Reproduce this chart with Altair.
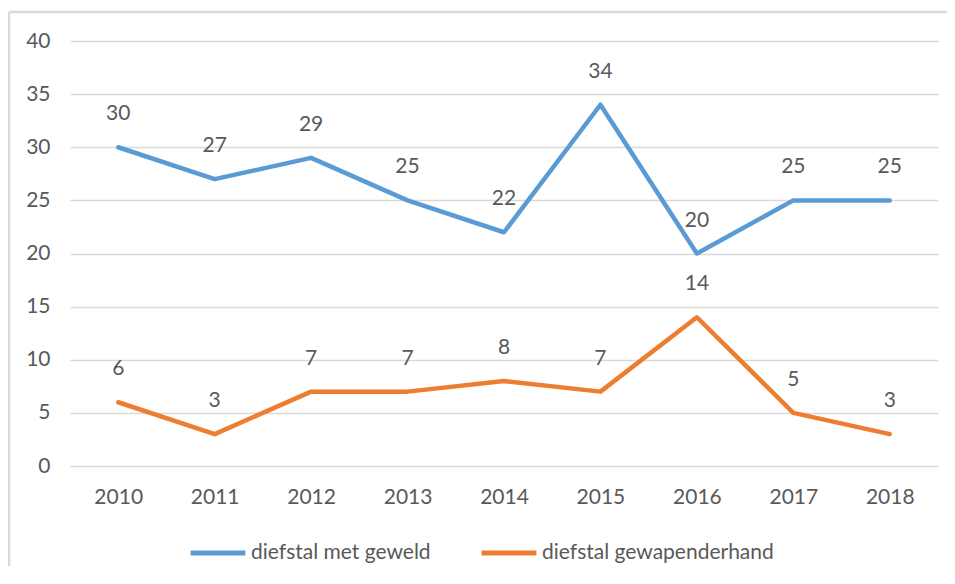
import altair as alt
import pandas as pd

years = ["2010", "2011", "2012", "2013", "2014", "2015", "2016", "2017", "2018"]
met_geweld = [30, 27, 29, 25, 22, 34, 20, 25, 25]
gewapenderhand = [6, 3, 7, 7, 8, 7, 14, 5, 3]
series_names = ["diefstal met geweld", "diefstal gewapenderhand"]
colors = ["#5B9BD5", "#ED7D31"]

rows = []
for y, v in zip(years, met_geweld):
    rows.append({"jaar": y, "waarde": v, "reeks": series_names[0]})
for y, v in zip(years, gewapenderhand):
    rows.append({"jaar": y, "waarde": v, "reeks": series_names[1]})
df = pd.DataFrame(rows)

FONT = "Lato"
TXT = "#595959"

x = alt.X("jaar:N", sort=years, title=None,
          scale=alt.Scale(paddingInner=1, paddingOuter=0.5),
          axis=alt.Axis(labelAngle=0, ticks=False, domain=True, domainColor="#D9D9D9",
                        labelPadding=20, labelFontSize=21, labelColor=TXT, labelFont=FONT, grid=False))
y = alt.Y("waarde:Q", title=None,
          scale=alt.Scale(domain=[0, 40]),
          axis=alt.Axis(values=[0, 5, 10, 15, 20, 25, 30, 35, 40], ticks=False, domain=False,
                        gridColor="#D9D9D9", gridWidth=1.5, labelPadding=20, labelFontSize=21,
                        labelColor=TXT, labelFont=FONT))
color = alt.Color("reeks:N", sort=series_names,
                  scale=alt.Scale(domain=series_names, range=colors),
                  legend=alt.Legend(title=None, orient="none", direction="horizontal",
                                    legendX=118, legendY=482, symbolType="stroke",
                                    symbolSize=3000, symbolStrokeWidth=5, labelFontSize=21,
                                    labelFont=FONT, labelColor=TXT, columnPadding=40,
                                    labelOffset=3, symbolOffset=0, labelLimit=0))

one = pd.DataFrame({"a": [0]})
frame_top = alt.Chart(one).mark_rule(stroke="#D9D9D9", strokeWidth=2.5).encode(
    x=alt.value(-61), x2=alt.value(900), y=alt.value(-29))
frame_left = alt.Chart(one).mark_rule(stroke="#D9D9D9", strokeWidth=2.5).encode(
    x=alt.value(-61), y=alt.value(-29), y2=alt.value(560))

lines = alt.Chart(df).mark_line(strokeWidth=4.5, strokeCap="round", strokeJoin="round").encode(
    x=x, y=y, color=color)

labels = alt.Chart(df).mark_text(dy=-33, fontSize=21, font=FONT, color=TXT).encode(
    x=alt.X("jaar:N", sort=years), y="waarde:Q", text="waarde:Q")

chart = alt.layer(frame_top, frame_left, lines, labels).properties(
    width=868, height=425,
    autosize=alt.AutoSizeParams(type="none"),
    padding={"left": 62, "top": 33, "right": 9, "bottom": 100},
).configure_view(stroke=None)

chart.save("out.html", embed_options={"renderer": "svg", "actions": False})
